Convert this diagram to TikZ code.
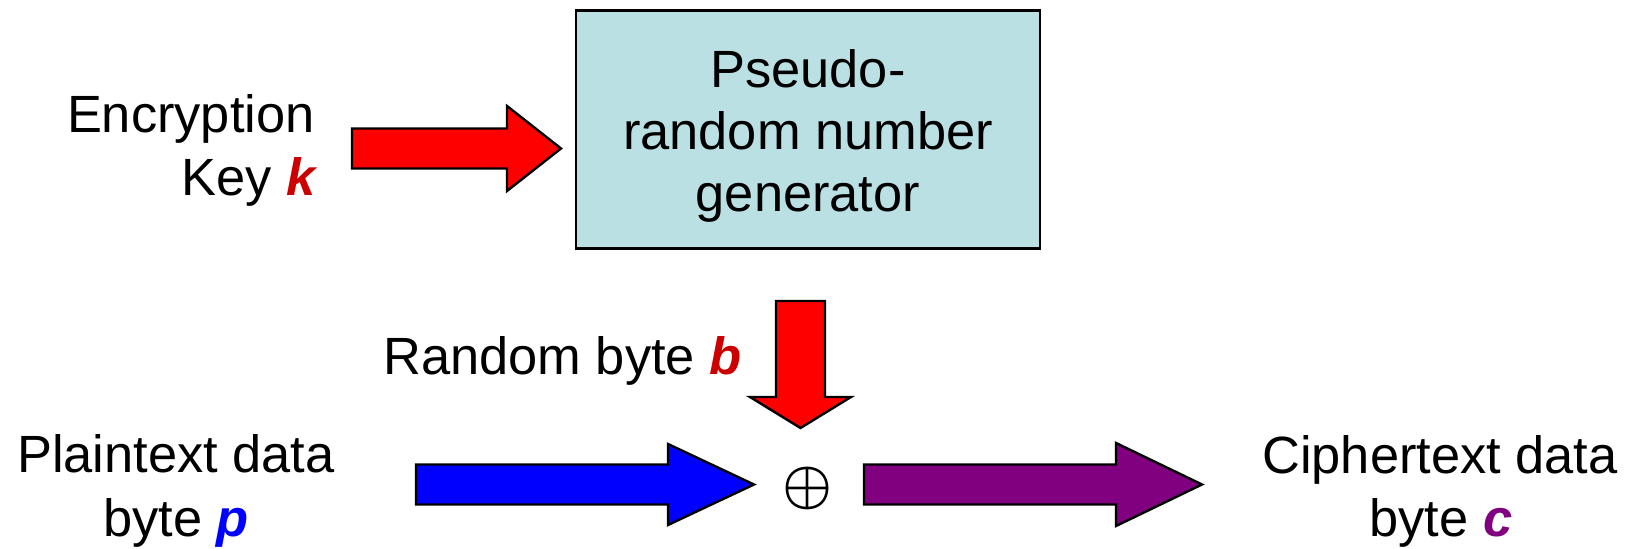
\documentclass[tikz,border=0pt]{standalone}
\usepackage{fontspec}
\usepackage{graphicx}
\setmainfont{Liberation Sans}
\definecolor{boxfill}{RGB}{187,224,227}
\definecolor{keyred}{RGB}{204,0,0}
\definecolor{pblue}{RGB}{0,0,255}
\definecolor{cpurple}{RGB}{128,0,128}
\newcommand{\vark}[2]{{\bfseries\itshape\color{#1}#2}}
\begin{document}
\begin{tikzpicture}[x=0.5pt,y=-0.5pt,
  lbl/.style={inner sep=0pt, font=\fontsize{26.2}{31}\selectfont},
  blk/.style={draw=black, line width=1.2pt, line join=miter},
]
\useasboundingbox (0,0) rectangle (1630,549);
% generator box
\node[blk, fill=boxfill, minimum width=232pt, minimum height=119pt, inner sep=0pt] (prng) at (808,129.5) {};
\node[lbl, anchor=base] (t1) at (808,88) {Pseudo-};
\node[lbl, anchor=base] (t2) at (808,150) {random number};
\node[lbl, anchor=base] (t3) at (808,212) {generator};
% labels
\node[lbl, anchor=base east] (enc1) at (315,133) {Encryption};
\node[lbl, anchor=base east] (enc2) at (316,196) {Key \vark{keyred}{k}};
\node[lbl, anchor=base east] (rnd) at (742,375) {Random byte \vark{keyred}{b}};
\node[lbl, anchor=base] (pt1) at (176,473) {Plaintext data};
\node[lbl, anchor=base] (pt2) at (176,537) {byte \vark{pblue}{p}};
\node[lbl, anchor=base] (ct1) at (1440,474) {Ciphertext data};
\node[lbl, anchor=base] (ct2) at (1441,537) {byte \vark{cpurple}{c}};
\node[inner sep=0pt] (xor) at (808,489) {\scalebox{2.8}{\boldmath$\oplus$}};
% block arrows
\draw[blk, fill=red] (352,128.5) -- (507,128.5) -- (507,106) -- (561,148.5) -- (507,191) -- (507,168.5) -- (352,168.5) -- cycle;
\draw[blk, fill=red] (776,301) -- (825,301) -- (825,397) -- (851,397) -- (800.5,428) -- (750,397) -- (776,397) -- cycle;
\draw[blk, fill=pblue] (416,464.5) -- (668,464.5) -- (668,444) -- (754,484.5) -- (668,525) -- (668,504.5) -- (416,504.5) -- cycle;
\draw[blk, fill=cpurple] (864,464.5) -- (1116,464.5) -- (1116,443) -- (1202,484.5) -- (1116,526) -- (1116,504.5) -- (864,504.5) -- cycle;
\end{tikzpicture}
\end{document}
